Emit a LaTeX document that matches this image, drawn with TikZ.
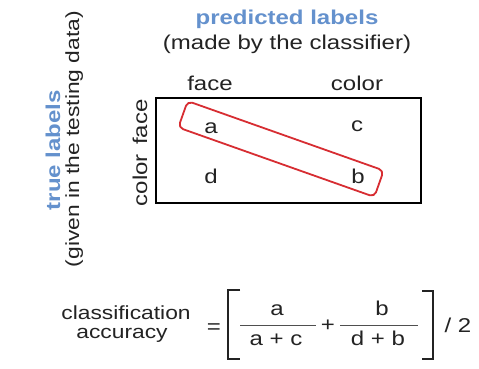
\documentclass[tikz,border=0pt]{standalone}
\usepackage{fontspec}
\setmainfont[FakeStretch=1.2]{Liberation Sans}
\definecolor{lblblue}{RGB}{100,145,205}
\definecolor{boxred}{RGB}{215,45,50}
\definecolor{ink}{RGB}{35,35,35}
\begin{document}
\begin{tikzpicture}[x=1pt,y=-1pt,
  txt/.style={font=\fontsize{20}{22}\selectfont, inner sep=0pt, anchor=base, text=ink},
  smalltxt/.style={txt, font=\fontsize{19}{21}\selectfont},
  bluetxt/.style={txt, font=\fontsize{20}{22}\selectfont\bfseries, text=lblblue},
  vtxt/.style={txt, rotate=90},
  vblue/.style={bluetxt, rotate=90},
  matrixbox/.style={draw=black, line width=2.4pt},
  diagbox/.style={draw=boxred, line width=1.8pt, rounded corners=5pt, minimum width=208pt, minimum height=28pt, rotate=-19.5, inner sep=0pt},
  bracket/.style={draw=ink, line width=1.4pt},
  fracline/.style={draw=ink!80, line width=0.8pt}]
\useasboundingbox[fill=white] (0,0) rectangle (479,368);
% titles
\node[bluetxt] (pred) at (287,24) {predicted labels};
\node[txt] (made) at (287,49) {(made by the classifier)};
\node[txt] (hface) at (210,90) {face};
\node[txt] (hcolor) at (357,90) {color};
% matrix box
\draw[matrixbox] (156,98) rectangle (421,203);
\node[txt] (a) at (211,133) {a};
\node[txt] (c) at (357,131) {c};
\node[txt] (d) at (211,183) {d};
\node[txt] (b) at (358,183) {b};
\node[diagbox] (diag) at (281,149) {};
% row labels
\node[vtxt] (vface) at (147,122) {face};
\node[vtxt] (vcolor) at (147,180) {color};
\node[vblue] (truel) at (60,150) {true labels};
\node[vtxt, font=\fontsize{19}{21}\selectfont] (given) at (79,139) {(given in the testing data)};
% formula
\node[smalltxt] (cls) at (126,319) {classification};
\node[smalltxt] (acc) at (122,338) {accuracy};
\node[txt] (eq) at (214,333) {=};
\draw[bracket] (240,290) -- (228,290) -- (228,359) -- (240,359);
\draw[bracket] (422,291) -- (433,291) -- (433,359) -- (422,359);
\node[txt] (fa) at (277,315) {a};
\draw[fracline] (240,325) -- (316,325);
\node[txt] (fac) at (276,345) {a + c};
\node[txt] (plus) at (328,331) {+};
\node[txt] (fb) at (382,315) {b};
\draw[fracline] (340,325) -- (418,325);
\node[txt] (fdb) at (378,345) {d + b};
\node[txt] (half) at (458,332) {/ 2};
\end{tikzpicture}
\end{document}
